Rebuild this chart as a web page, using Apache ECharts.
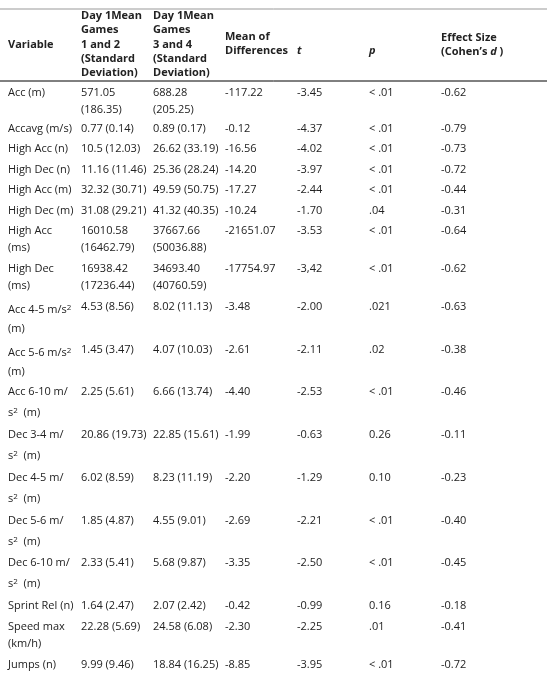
<!DOCTYPE html>
<html><head><meta charset="utf-8">
<script src="https://cdn.jsdelivr.net/npm/echarts@6/dist/echarts.min.js"></script>
<style>html,body{margin:0;padding:0;background:#fff}#c{width:547px;height:677px}</style>
</head><body><div id="c"></div>
<script>
// Data
var variables = ['Acc (m)','Accavg (m/s)','High Acc (n)','High Dec (n)','High Acc (m)','High Dec (m)','High Acc (ms)','High Dec (ms)','Acc 4-5 m/s2 (m)','Acc 5-6 m/s2 (m)','Acc 6-10 m/s2 (m)','Dec 3-4 m/s2 (m)','Dec 4-5 m/s2 (m)','Dec 5-6 m/s2 (m)','Dec 6-10 m/s2 (m)','Sprint Rel (n)','Speed max (km/h)','Jumps (n)'];
var mean12 = ['571.05','0.77','10.5','11.16','32.32','31.08','16010.58','16938.42','4.53','1.45','2.25','20.86','6.02','1.85','2.33','1.64','22.28','9.99'];
var sd12 = ['186.35','0.14','12.03','11.46','30.71','29.21','16462.79','17236.44','8.56','3.47','5.61','19.73','8.59','4.87','5.41','2.47','5.69','9.46'];
var mean34 = ['688.28','0.89','26.62','25.36','49.59','41.32','37667.66','34693.40','8.02','4.07','6.66','22.85','8.23','4.55','5.68','2.07','24.58','18.84'];
var sd34 = ['205.25','0.17','33.19','28.24','50.75','40.35','50036.88','40760.59','11.13','10.03','13.74','15.61','11.19','9.01','9.87','2.42','6.08','16.25'];
var diffs = ['-117.22','-0.12','-16.56','-14.20','-17.27','-10.24','-21651.07','-17754.97','-3.48','-2.61','-4.40','-1.99','-2.20','-2.69','-3.35','-0.42','-2.30','-8.85'];
var tVals = ['-3.45','-4.37','-4.02','-3.97','-2.44','-1.70','-3.53','-3,42','-2.00','-2.11','-2.53','-0.63','-1.29','-2.21','-2.50','-0.99','-2.25','-3.95'];
var pVals = ['< .01','< .01','< .01','< .01','< .01','.04','< .01','< .01','.021','.02','< .01','0.26','0.10','< .01','< .01','0.16','.01','< .01'];
var effects = ['-0.62','-0.79','-0.73','-0.72','-0.44','-0.31','-0.64','-0.62','-0.63','-0.38','-0.46','-0.11','-0.23','-0.40','-0.45','-0.18','-0.41','-0.72'];

// Layout
var rowY = [93,129,149,170,190,211,231,269,307,350,392,435,478,521,563,606,627,665];
var colX = [8,81,153,225,297,369,441];
var FONT = '"Open Sans", sans-serif';
var C = '#222';
var rich = {
  sup:{fontSize:8, fontFamily:FONT, fill:C, verticalAlign:'top', lineHeight:12, padding:[0,0,8,0]},
  n:{fontSize:11, fontFamily:FONT, fill:C},
  b:{fontSize:11, fontFamily:FONT, fontWeight:'bold', fill:C},
  bi:{fontSize:11, fontFamily:FONT, fontWeight:'bold', fontStyle:'italic', fill:C}
};
var els = [];
function txt(x,y,s,opt){
  opt = opt||{};
  els.push({type:'text', x:x, y:y, style:{text:s, font:(opt.italic?'italic ':'')+(opt.bold?'bold ':'')+'11px '+FONT, fill:C, textVerticalAlign:'middle', rich:rich}});
}
// header
var H = [[8,['Variable'],45],[81,['Day 1Mean','Games','1 and 2','(Standard','Deviation)'],16],[153,['Day 1Mean','Games','3 and 4','(Standard','Deviation)'],16],[225,['Mean of','Differences'],37],[441,['Effect Size'],38]];
H.forEach(function(h){h[1].forEach(function(l,i){txt(h[0],h[2]+i*14.2,l,{bold:true});});});
txt(297,51,'t',{bold:true,italic:true});
txt(369,51,'p',{bold:true,italic:true});
txt(441,52,'{b|(Cohen\u2019s }{bi|d}{b| )}');
els.push({type:'line', shape:{x1:0,y1:9,x2:547,y2:9}, style:{stroke:'#999',lineWidth:1}});
els.push({type:'line', shape:{x1:0,y1:81,x2:547,y2:81}, style:{stroke:'#000',lineWidth:1}});

variables.forEach(function(v,i){
  var y = rowY[i];
  var wrapVal = (i===0||i===6||i===7);
  var m = v.match(/^(.*) m\/s2 \(m\)$/);
  if (m) {
    if (i===8||i===9) {
      txt(colX[0], y+3, '{n|'+m[1]+' m/s}{sup|2}');
      txt(colX[0], y+22, '(m)');
    } else {
      txt(colX[0], y, m[1]+' m/');
      txt(colX[0], y+21, '{n|s}{sup|2}{n|  (m)}');
    }
  } else if (i===6||i===7) {
    var parts = v.split(' (');
    txt(colX[0], y, parts[0]); txt(colX[0], y+17, '('+parts[1]);
  } else if (i===16) {
    txt(colX[0], y, 'Speed max'); txt(colX[0], y+17, '(km/h)');
  } else txt(colX[0], y, v);
  if (wrapVal) {
    txt(colX[1], y, mean12[i]); txt(colX[1], y+17, '('+sd12[i]+')');
    txt(colX[2], y, mean34[i]); txt(colX[2], y+17, '('+sd34[i]+')');
  } else {
    txt(colX[1], y, mean12[i]+' ('+sd12[i]+')');
    txt(colX[2], y, mean34[i]+' ('+sd34[i]+')');
  }
  txt(colX[3], y, diffs[i]);
  txt(colX[4], y, tVals[i]);
  txt(colX[5], y, pVals[i]);
  txt(colX[6], y, effects[i]);
});

var chart = echarts.init(document.getElementById('c'));
chart.setOption({backgroundColor:'#fff', graphic:{elements:els}});
</script></body></html>
